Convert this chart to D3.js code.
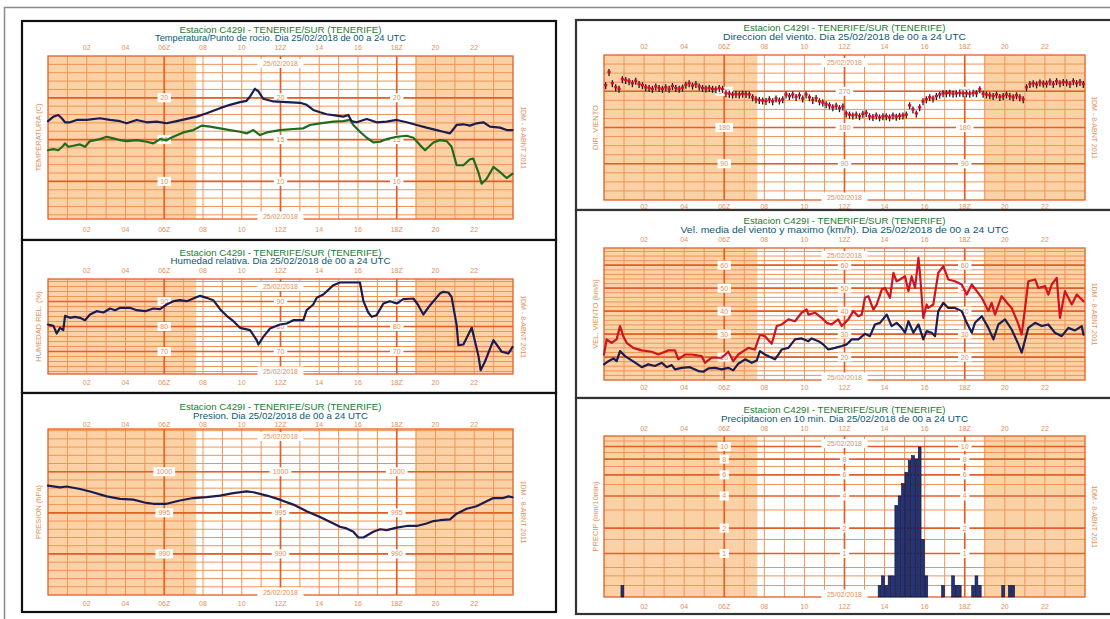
<!DOCTYPE html>
<html>
<head>
<meta charset="utf-8">
<script src="https://cdn.jsdelivr.net/npm/d3@7"></script>
<style>
  html, body { margin: 0; padding: 0; background: #fff; }
  svg { display: block; }
  text { font-family: "Liberation Sans", Arial, sans-serif; }
</style>
</head>
<body>
<svg id="chart" width="1110" height="619"></svg>
<script>
// ---------------------------------------------------------------
// Station C429I - Tenerife/Sur, 25/02/2018, 00 to 24 UTC
// ---------------------------------------------------------------
const stationTitle = "Estacion C429I - TENERIFE/SUR (TENERIFE)";
const dateLabel = "25/02/2018";
const hourTicks = [2, 4, 6, 8, 10, 12, 14, 16, 18, 20, 22];
const hourTickLabels = ["02", "04", "06Z", "08", "10", "12Z", "14", "16", "18Z", "20", "22"];
const daylight = [7.65, 18.95];          // sunrise / sunset (UTC hours)
const sideNote = "1DM - 8-ABNT 2011";

// Temperature (C) [hour, value]
const temperature = [[0,17.2],[0.28,17.75],[0.53,17.95],[0.71,17.55],[0.88,17.07],[1.14,17.07],[1.48,17.35],[2.0,17.35],[2.68,17.55],[3.2,17.35],[3.72,17.2],[4.06,16.95],[4.58,17.35],[5.09,17.07],[5.61,17.15],[6.12,16.95],[6.64,17.2],[7.16,17.47],[7.67,17.75],[8.19,18.15],[8.88,18.76],[9.39,19.16],[9.91,19.48],[10.25,19.64],[10.43,20.16],[10.68,21.08],[10.86,20.76],[11.11,19.88],[11.63,19.56],[12.32,19.48],[13.01,19.4],[13.35,19.16],[13.69,18.55],[14.04,18.27],[14.38,18.03],[14.9,17.87],[15.24,17.75],[15.5,17.95],[15.67,17.2],[15.93,17.07],[16.45,17.47],[16.96,17.07],[17.48,17.15],[18.0,17.35],[18.51,17.07],[19.03,16.75],[19.54,16.43],[20.06,16.14],[20.4,15.94],[20.75,15.74],[21.09,16.75],[21.44,16.83],[21.78,16.67],[22.12,16.95],[22.47,17.07],[22.81,16.55],[23.33,16.43],[23.67,16.14],[23.98,16.14]];

// Dew point (C) [hour, value]
const dewPoint = [[0,13.73],[0.28,13.86],[0.53,13.73],[0.79,14.26],[0.88,14.54],[1.05,14.14],[1.31,14.26],[1.65,14.42],[1.91,14.14],[2.17,14.82],[2.68,15.06],[3.03,15.34],[3.37,15.14],[3.72,14.94],[4.06,14.82],[4.58,14.94],[5.09,14.74],[5.44,14.54],[5.78,15.06],[6.12,14.94],[6.47,15.34],[6.98,15.86],[7.5,16.14],[7.93,16.67],[8.36,16.55],[8.88,16.35],[9.39,16.14],[9.91,15.94],[10.25,15.74],[10.6,16.14],[10.94,15.54],[11.29,15.86],[11.97,16.14],[12.66,16.27],[13.18,16.35],[13.52,16.75],[14.04,16.95],[14.73,17.15],[15.24,17.2],[15.59,17.35],[15.76,16.75],[16.1,15.94],[16.45,15.22],[16.79,14.66],[17.14,14.74],[17.48,15.06],[18.0,15.34],[18.51,15.46],[18.86,15.22],[19.2,14.34],[19.46,13.73],[19.89,14.66],[20.23,14.94],[20.58,14.82],[20.83,14.14],[21.09,11.93],[21.44,11.93],[21.78,12.65],[21.95,12.73],[22.21,11.12],[22.38,9.72],[22.64,10.32],[22.99,11.73],[23.33,11.12],[23.67,10.4],[23.98,10.92]];

// Relative humidity (%) [hour, value]
const humidity = [[0,80.8],[0.28,80.27],[0.45,77.2],[0.62,79.47],[0.79,78.53],[0.88,84.27],[1.14,83.47],[1.39,83.87],[1.65,83.47],[1.91,82.53],[2.17,84.8],[2.51,86.13],[2.86,85.6],[3.2,87.2],[3.46,86.53],[3.72,87.47],[4.23,87.47],[4.58,86.53],[5.01,86.13],[5.44,87.2],[5.78,86.93],[6.12,88.8],[6.47,90.13],[6.81,90.53],[7.16,90.13],[7.5,91.2],[7.85,92.27],[8.19,91.47],[8.53,90.53],[8.88,86.93],[9.22,84.27],[9.57,82.13],[9.91,79.47],[10.43,78.53],[10.77,74.53],[10.86,72.8],[11.11,75.87],[11.46,79.2],[11.97,80.8],[12.32,81.2],[12.66,82.53],[13.18,82.53],[13.35,86.53],[13.69,88.8],[13.87,91.47],[14.21,92.8],[14.73,96.53],[15.07,97.6],[15.76,97.6],[16.1,97.6],[16.28,90.13],[16.53,85.6],[16.71,83.87],[16.96,84.53],[17.31,89.2],[17.65,90.13],[18.0,89.2],[18.34,90.93],[18.86,91.2],[19.11,88.53],[19.37,84.8],[19.72,88.53],[20.23,93.2],[20.4,93.87],[20.66,93.6],[20.83,91.87],[21.09,80.53],[21.18,72.53],[21.44,72.8],[21.87,79.47],[22.21,68.53],[22.33,62.53],[22.55,65.9],[22.99,74.53],[23.42,69.9],[23.76,69.2],[23.98,71.87]];

// Pressure (hPa) [hour, value]
const pressure = [[0,998.3],[0.62,998.1],[0.96,998.2],[1.65,997.9],[2.17,997.6],[3.03,997.0],[3.72,996.7],[4.4,996.6],[5.09,996.2],[5.44,996.1],[6.12,996.1],[6.81,996.5],[7.5,996.8],[8.19,996.9],[8.88,997.1],[9.57,997.4],[10.25,997.6],[10.6,997.5],[11.29,997.1],[11.97,996.6],[12.66,996.0],[13.35,995.2],[14.04,994.5],[14.73,993.7],[15.07,993.3],[15.41,993.1],[15.76,992.7],[16.02,992.0],[16.28,992.0],[16.79,992.7],[17.14,993.0],[17.48,992.9],[18.0,993.2],[18.51,993.4],[19.03,993.4],[19.54,993.7],[19.89,994.0],[20.23,994.1],[20.75,994.2],[21.09,994.9],[21.61,995.5],[22.12,995.8],[22.64,996.4],[22.99,996.8],[23.5,996.8],[23.76,997.0],[23.98,996.9]];

// Wind direction (deg), one value per 10 minutes from 00:00
const windDir = [
  285,318,290,280,276,300,  298,295,290,296,288,285,
  280,278,276,282,278,276,  280,276,283,278,276,279,
  286,290,284,288,282,278,  277,278,276,275,278,276,
  265,264,262,263,262,264,  263,262,255,250,248,247,
  246,250,245,252,247,250,  262,258,262,256,260,252,
  262,255,248,253,245,242,  238,235,230,234,228,232,
  215,212,210,212,208,214,  216,208,206,210,205,208,
  208,205,210,207,209,210,  212,235,225,215,230,245,
  250,255,252,258,262,265,  265,266,264,265,266,265,
  265,264,266,265,275,264,  262,260,258,262,256,258,
  262,258,255,260,255,250,  280,288,290,287,292,289,
  289,294,288,295,290,293,  292,288,295,290,293,288
];

// Maximum gust (km/h) [hour, value]
const windGust = [[0,21.1],[0.13,27.7],[0.38,26.2],[0.63,27.7],[0.8,33.5],[0.96,29.1],[1.13,26.2],[1.46,24],[1.88,22.9],[2.38,22.3],[2.71,21.1],[3.21,22.9],[3.54,22.9],[3.71,19],[4.04,21.1],[4.37,21.1],[4.87,20.4],[5.04,17.5],[5.37,19.7],[5.87,19.7],[6.2,22.3],[6.45,18.2],[6.7,21.1],[7.2,24],[7.53,23.3],[7.78,29.6],[8.03,29.1],[8.37,25.8],[8.62,33.5],[8.87,34.2],[9.2,36.4],[9.53,35.6],[9.86,39.3],[10.11,40.7],[10.2,38.5],[10.53,39.3],[10.86,37.1],[11.11,34.9],[11.36,34.2],[11.69,36.4],[11.86,33.5],[12.19,36.4],[12.44,40],[12.69,37.8],[12.86,38.5],[13.02,45.8],[13.19,46.5],[13.44,40.7],[13.61,42.9],[13.86,49.4],[14.02,50.1],[14.27,45.8],[14.44,56.7],[14.6,53],[14.77,53.8],[15.02,55.2],[15.19,48.7],[15.35,55.2],[15.52,50.1],[15.69,63.2],[15.77,55.9],[15.93,37.1],[16.1,42.9],[16.18,41.4],[16.43,42.9],[16.68,56.7],[16.93,59.6],[17.18,53.8],[17.51,53],[17.85,51.6],[18.1,47.2],[18.35,51.6],[18.6,48.7],[18.85,45.8],[19.18,40],[19.34,43.6],[19.51,38.5],[19.84,46.5],[20.18,42.9],[20.34,41.4],[20.68,34.2],[20.84,29.8],[21.01,41.4],[21.17,53],[21.51,53.8],[21.67,50.1],[22.01,50.9],[22.17,47.2],[22.34,51.6],[22.59,54.5],[22.75,37.1],[23.0,48.7],[23.34,42.9],[23.59,47.2],[23.84,45.1],[23.92,44.3]];

// Mean wind speed (km/h) [hour, value]
const windMean = [[0,16.8],[0.22,18.2],[0.47,19.4],[0.63,18.2],[0.8,22.6],[1.05,20.4],[1.3,19],[1.63,17.1],[1.88,15.6],[2.21,16.8],[2.54,16.1],[2.88,17.5],[3.13,15.6],[3.38,16.5],[3.54,14.6],[3.88,15.3],[4.29,15.6],[4.71,13.9],[4.96,13.6],[5.21,15.1],[5.54,15.3],[5.87,14.6],[6.2,15.3],[6.45,14.2],[6.7,17.1],[7.04,19],[7.37,17.5],[7.62,18.5],[7.78,22.6],[8.03,21.1],[8.53,19],[8.7,21.1],[8.87,23.3],[9.2,24],[9.53,27.7],[9.86,28.1],[10.2,26.9],[10.36,28.1],[10.7,26.9],[10.94,25.5],[11.19,23.3],[11.53,24],[11.86,24.8],[12.11,25.5],[12.36,27.7],[12.69,27.7],[13.02,30.1],[13.27,29.1],[13.52,34.2],[13.77,34.9],[14.11,38.5],[14.35,33.5],[14.6,34.9],[14.85,32.7],[15.02,30.6],[15.19,35.6],[15.44,30.6],[15.69,34.2],[15.93,27.7],[16.1,31.3],[16.35,30.6],[16.52,29.1],[16.68,40],[16.93,43.6],[17.18,41.4],[17.51,41.4],[17.85,40],[18.1,34.9],[18.35,30.6],[18.51,34.9],[18.85,37.8],[19.18,32.7],[19.43,27.7],[19.68,34.2],[20.01,36.4],[20.34,32],[20.68,25.5],[20.84,21.9],[21.17,32.7],[21.51,34.9],[21.84,33.5],[22.17,34.2],[22.5,30.6],[22.84,29.1],[23.17,32.7],[23.5,31.6],[23.84,33.5],[23.92,29.8]];

// Precipitation in 10 min (mm): slot index (10-min steps from 00:00) and amount
const rainSlots  = [5, 82, 83, 84, 85, 86, 87, 88, 89, 90, 91, 92, 93, 94, 95, 96, 101, 104, 105, 106, 110, 111, 112, 119, 121, 122];
const rainAmount = [0.2, 0.2, 0.4, 0.2, 0.4, 0.4, 3.3, 4.0, 5.1, 6.3, 7.8, 8.5, 8.0, 9.9, 1.5, 0.4, 0.2, 0.4, 0.2, 0.2, 0.2, 0.4, 0.2, 0.2, 0.2, 0.2];

// ---------------------------------------------------------------
const NIGHT = "#fbd2a6";
const GRID_THIN = "#ef9456";
const GRID_THICK = "#e35f28";
const LABEL = "#e39058";
const NAVY = "#1b1c50";

const svg = d3.select("#chart");

// outer frame
svg.append("rect").attr("x", 4.5).attr("y", 7.5).attr("width", 1120).attr("height", 630)
  .attr("fill", "none").attr("stroke", "#8a8a8a").attr("stroke-width", 1.5);

function drawPanel(cfg) {
  const g = svg.append("g");
  const [pl, pr, pt, pb] = cfg.plot;
  const x = d3.scaleLinear().domain([0, 24]).range([pl, pr]);
  const y = cfg.y.range([pb, pt]);
  const yv = cfg.log ? (v => y(1 + v)) : (v => y(v));

  // panel box
  const [bx0, by0, bx1, by1] = cfg.box;
  g.append("rect").attr("x", bx0).attr("y", by0).attr("width", bx1 - bx0).attr("height", by1 - by0)
    .attr("fill", "#fff").attr("stroke", cfg.boxColor).attr("stroke-width", 2.2);

  // night shading
  g.append("rect").attr("x", x(0)).attr("y", pt).attr("width", x(daylight[0]) - x(0)).attr("height", pb - pt).attr("fill", NIGHT);
  g.append("rect").attr("x", x(daylight[1])).attr("y", pt).attr("width", x(24) - x(daylight[1])).attr("height", pb - pt).attr("fill", NIGHT);

  // horizontal grid
  g.selectAll(null).data(cfg.thin).join("line")
    .attr("x1", pl).attr("x2", pr).attr("y1", d => yv(d)).attr("y2", d => yv(d))
    .attr("stroke", GRID_THIN).attr("stroke-width", 1);
  // vertical hourly grid
  g.selectAll(null).data(d3.range(1, 24)).join("line")
    .attr("x1", d => x(d)).attr("x2", d => x(d)).attr("y1", pt).attr("y2", pb)
    .attr("stroke", d => d % 6 === 0 ? GRID_THICK : GRID_THIN)
    .attr("stroke-width", d => d % 6 === 0 ? 1.7 : 1);
  g.selectAll(null).data(cfg.thick).join("line")
    .attr("x1", pl).attr("x2", pr).attr("y1", d => yv(d)).attr("y2", d => yv(d))
    .attr("stroke", GRID_THICK).attr("stroke-width", 1.7);
  g.append("rect").attr("x", pl).attr("y", pt).attr("width", pr - pl).attr("height", pb - pt)
    .attr("fill", "none").attr("stroke", GRID_THICK).attr("stroke-width", 1.3);

  // hour tick labels, top and bottom
  [cfg.tickTop, cfg.tickBot].forEach(ty => {
    g.selectAll(null).data(hourTicks).join("text")
      .attr("x", d => x(d)).attr("y", ty).attr("text-anchor", "middle")
      .attr("font-size", 7).attr("fill", LABEL)
      .text((d, i) => hourTickLabels[i]);
  });

  // value labels on white boxes along 06, 12 and 18 UTC
  const lab = g.append("g");
  const dateRows = [pt + 7.5, pb - 3];
  cfg.labels.forEach(v => {
    [6, 12, 18].forEach(h => {
      // the date tag at 12 UTC takes precedence over a value label next to it
      if (h === 12 && dateRows.some(r => Math.abs(r - yv(v)) < 8)) return;
      const t = String(v);
      const w = t.length * 4.2 + 5;
      lab.append("rect").attr("x", x(h) - w / 2).attr("y", yv(v) - 4.5).attr("width", w).attr("height", 9).attr("fill", "#fff");
      lab.append("text").attr("x", x(h)).attr("y", yv(v) + 2.5).attr("text-anchor", "middle")
        .attr("font-size", 7).attr("fill", LABEL).text(t);
    });
  });
  // date labels
  dateRows.forEach(dy => {
    lab.append("rect").attr("x", x(12) - 23).attr("y", dy - 4.5).attr("width", 46).attr("height", 9).attr("fill", "#fff");
    lab.append("text").attr("x", x(12)).attr("y", dy + 2.5).attr("text-anchor", "middle")
      .attr("font-size", 7).attr("fill", LABEL).text(dateLabel);
  });

  // titles
  const cx = (pl + pr) / 2;
  g.append("text").attr("x", cx).attr("y", cfg.titleY[0]).attr("text-anchor", "middle")
    .attr("font-size", 9).attr("fill", "#1d7a30")
    .attr("textLength", 202).attr("lengthAdjust", "spacingAndGlyphs").text(stationTitle);
  g.append("text").attr("x", cx).attr("y", cfg.titleY[1]).attr("text-anchor", "middle")
    .attr("font-size", 9).attr("fill", "#0b5a70")
    .attr("textLength", cfg.subWidth).attr("lengthAdjust", "spacingAndGlyphs").text(cfg.subtitle);

  // y axis name
  g.append("text").attr("transform", `translate(${cfg.axisX},${(pt + pb) / 2}) rotate(-90)`)
    .attr("text-anchor", "middle").attr("dy", "0.35em")
    .attr("font-size", 7.5).attr("fill", LABEL).text(cfg.axisName);
  // side note
  g.append("text").attr("transform", `translate(${cfg.sideX},${(pt + pb) / 2}) rotate(90)`)
    .attr("text-anchor", "middle").attr("dy", "0.35em")
    .attr("font-size", 7).attr("fill", LABEL).text(sideNote);

  return { g, x, y, yv };
}

const lineGen = (p) => d3.line().x(d => p.x(d[0])).y(d => p.yv(d[1])).curve(d3.curveLinear);
function drawLine(p, data, color, w) {
  p.g.append("path").datum(data).attr("d", lineGen(p))
    .attr("fill", "none").attr("stroke", color).attr("stroke-width", w)
    .attr("stroke-linejoin", "round").attr("stroke-linecap", "round");
}

// ---- left column ----
const pTemp = drawPanel({
  box: [22, 21, 556, 240], plot: [48, 513, 56, 219], boxColor: "#111",
  y: d3.scaleLinear().domain([5.5, 25]),
  thin: d3.range(6, 25), thick: [10, 15, 20], labels: [20, 15, 10],
  titleY: [32.5, 41], tickTop: 50, tickBot: 231.5,
  subtitle: "Temperatura/Punto de rocio. Dia 25/02/2018 de 00 a 24 UTC", subWidth: 251,
  axisName: "TEMPERATURA (C)", axisX: 38, sideX: 523
});
drawLine(pTemp, dewPoint, "#1f6b1f", 2.2);
drawLine(pTemp, temperature, NAVY, 2.2);

const pHum = drawPanel({
  box: [22, 240, 556, 393], plot: [48, 513, 279, 374], boxColor: "#111",
  y: d3.scaleLinear().domain([61, 99]),
  thin: d3.range(62, 99, 2), thick: [70, 80, 90], labels: [90, 80, 70],
  titleY: [255.5, 264], tickTop: 273, tickBot: 385,
  subtitle: "Humedad relativa. Dia 25/02/2018 de 00 a 24 UTC", subWidth: 220,
  axisName: "HUMEDAD REL. (%)", axisX: 38, sideX: 523
});
drawLine(pHum, humidity, NAVY, 2.2);

const pPres = drawPanel({
  box: [22, 393, 556, 612], plot: [48, 513, 429, 595], boxColor: "#111",
  y: d3.scaleLinear().domain([985, 1005.2]),
  thin: d3.range(986, 1006), thick: [990, 995, 1000], labels: [1000, 995, 990],
  titleY: [409.5, 418.5], tickTop: 427, tickBot: 605.5,
  subtitle: "Presion. Dia 25/02/2018 de 00 a 24 UTC", subWidth: 175,
  axisName: "PRESION (hPa)", axisX: 38, sideX: 523
});
drawLine(pPres, pressure, NAVY, 2.2);

// ---- right column ----
const pDir = drawPanel({
  box: [576, 20, 1130, 210], plot: [604, 1085, 55, 200], boxColor: "#333",
  y: d3.scaleLinear().domain([0, 360]),
  thin: d3.range(22.5, 360, 22.5), thick: [90, 180, 270], labels: [270, 180, 90],
  titleY: [30.5, 39.5], tickTop: 49, tickBot: 208.5,
  subtitle: "Direccion del viento. Dia 25/02/2018 de 00 a 24 UTC", subWidth: 243,
  axisName: "DIR. VIENTO", axisX: 595, sideX: 1094
});
const dirMarks = pDir.g.append("g");
windDir.forEach((v, i) => {
  const hx = pDir.x((i + 0.5) / 6);
  dirMarks.append("line").attr("x1", hx).attr("x2", hx)
    .attr("y1", pDir.yv(v) - 3).attr("y2", pDir.yv(v) + 4)
    .attr("stroke", "#1a1a1a").attr("stroke-width", 1.3);
  dirMarks.append("rect").attr("x", hx - 1.6).attr("y", pDir.yv(v) - 1.2)
    .attr("width", 3.2).attr("height", 2.4).attr("fill", "#d0102a");
});

const pVel = drawPanel({
  box: [576, 210, 1130, 398], plot: [604, 1085, 248, 380], boxColor: "#333",
  y: d3.scaleLinear().domain([10, 67.5]),
  thin: d3.range(12, 68, 2), thick: [20, 30, 40, 50, 60], labels: [60, 50, 40, 30, 20],
  titleY: [224, 232.5], tickTop: 241.5, tickBot: 390,
  subtitle: "Vel. media del viento y maximo (km/h). Dia 25/02/2018 de 00 a 24 UTC", subWidth: 328,
  axisName: "VEL. VIENTO (km/h)", axisX: 595, sideX: 1094
});
drawLine(pVel, windGust, "#cc1520", 2.2);
drawLine(pVel, windMean, NAVY, 2.2);

const pRain = drawPanel({
  box: [576, 398, 1130, 614], plot: [604, 1085, 436, 597], boxColor: "#333",
  y: d3.scaleLog().domain([1, 13]), log: true,
  thin: [0.2, 0.4, 0.6, 1.5, 3, 5, 7, 9, 11], thick: [1, 2, 4, 6, 8, 10], labels: [10, 8, 6, 4, 2, 1],
  titleY: [412.5, 421.5], tickTop: 431, tickBot: 609,
  subtitle: "Precipitacion en 10 min. Dia 25/02/2018 de 00 a 24 UTC", subWidth: 247,
  axisName: "PRECIP (mm/10min)", axisX: 595, sideX: 1094
});
pRain.g.append("g").selectAll("rect").data(rainSlots).join("rect")
  .attr("x", (d) => pRain.x((d + 0.5) / 6) - 1.4)
  .attr("width", 2.8)
  .attr("y", (d, i) => pRain.yv(rainAmount[i]))
  .attr("height", (d, i) => pRain.yv(0) - pRain.yv(rainAmount[i]))
  .attr("fill", "#23327a").attr("stroke", "#0d0f2a").attr("stroke-width", 0.6);
</script>
</body>
</html>
